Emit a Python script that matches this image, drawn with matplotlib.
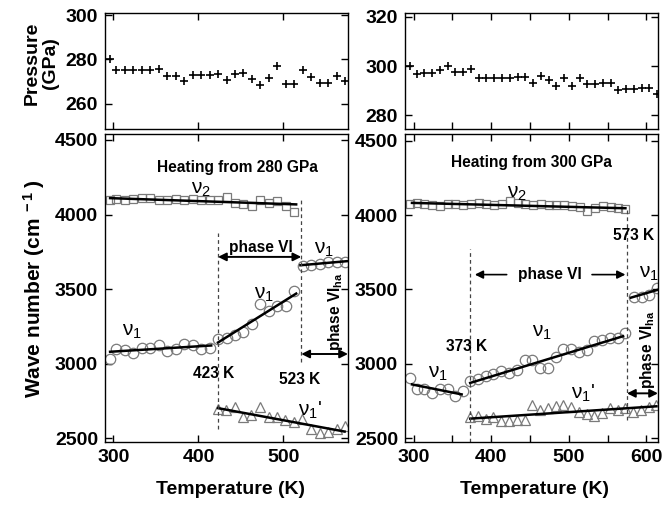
import matplotlib
matplotlib.use('Agg')
import matplotlib.pyplot as plt
from matplotlib.ticker import MultipleLocator

plt.rcParams['font.family'] = ['Liberation Sans', 'DejaVu Sans']
plt.rcParams['mathtext.fontset'] = 'custom'
plt.rcParams['mathtext.rm'] = 'Liberation Sans'
plt.rcParams['mathtext.bf'] = 'Liberation Sans:bold'
plt.rcParams['mathtext.it'] = 'Liberation Sans:italic'
plt.rcParams['mathtext.default'] = 'regular'

# ---------------- data: left (heating from 280 GPa) ----------------
pL_T = [296, 303, 313, 323, 333, 343, 353, 363, 373, 383, 393, 403, 413, 423, 433,
        443, 453, 463, 473, 483, 493, 503, 513, 523, 533, 543, 553, 563, 573]
pL_P = [280, 275, 275, 275, 275, 275, 275.5, 272.5, 272.5, 270, 273, 273, 273, 273.5, 270.5,
        273.5, 274, 271, 268.5, 271.5, 277, 269, 269, 275, 272, 269.5, 269.5, 272.5, 270]

nu2L_T = [296, 303, 313, 323, 333, 343, 353, 363, 373, 383, 393, 403, 413, 423, 433,
          443, 453, 463, 473, 483, 493, 503, 513]
nu2L_W = [4100, 4105, 4098, 4103, 4108, 4108, 4100, 4095, 4105, 4098, 4105, 4098, 4095, 4097, 4115,
          4078, 4072, 4055, 4095, 4080, 4090, 4060, 4015]
nu1aL_T = [296, 303, 313, 323, 333, 343, 353, 363, 373, 383, 393, 403, 413]
nu1aL_W = [3033, 3100, 3093, 3073, 3104, 3104, 3122, 3082, 3096, 3129, 3122, 3100, 3104]
nu1bL_T = [423, 433, 443, 453, 463, 473, 483, 493, 503, 513]
nu1bL_W = [3165, 3170, 3190, 3210, 3265, 3400, 3350, 3390, 3385, 3490]
nu1cL_T = [523, 533, 543, 553, 563, 573]
nu1cL_W = [3652, 3659, 3670, 3682, 3682, 3684]
nu1pL_T = [423, 432, 443, 453, 462, 473, 483, 492, 502, 512, 522, 533, 543, 552, 563, 572]
nu1pL_W = [2693, 2689, 2707, 2640, 2656, 2711, 2644, 2644, 2622, 2611, 2629, 2562, 2538, 2540, 2562, 2582]

fitL = {
    'nu2': ([296, 515], [4110, 4068]),
    'nu1a': ([296, 415], [3080, 3122]),
    'nu1b': ([423, 515], [3142, 3470]),
    'nu1c': ([520, 576], [3660, 3688]),
    'nu1p': ([423, 572], [2702, 2545]),
}

# ---------------- data: right (heating from 300 GPa) ----------------
pR_T = [296, 304, 314, 324, 334, 344, 354, 364, 374, 384, 394, 404, 414, 424, 434, 444, 454,
        464, 474, 484, 494, 504, 514, 524, 534, 544, 554, 564, 574, 584, 594, 604, 614]
pR_P = [300, 296.6, 297, 297, 298.3, 300, 297.5, 297.5, 299, 295, 295, 295, 295.2, 295.2, 295.5,
        295.6, 293.1, 296.1, 294.5, 292, 295, 292.1, 295.2, 292.7, 292.7, 293.1, 293.1, 290.3,
        290.6, 290.8, 291, 291.3, 288.6]

nu2R_T = [296, 304, 314, 324, 334, 344, 354, 364, 374, 384, 394, 404, 414, 424, 434, 444, 454,
          464, 474, 484, 494, 504, 514, 524, 534, 544, 554, 564, 573]
nu2R_W = [4074, 4080, 4076, 4069, 4063, 4072, 4076, 4069, 4072, 4082, 4076, 4069, 4076, 4092, 4080,
          4074, 4067, 4074, 4071, 4070, 4066, 4060, 4054, 4030, 4050, 4058, 4052, 4046, 4038]
nu1aR_T = [296, 304, 314, 324, 334, 344, 354, 364]
nu1aR_W = [2906, 2828, 2832, 2801, 2832, 2828, 2787, 2821]
nu1bR_T = [373, 383, 393, 403, 413, 423, 433, 443, 453, 463, 473, 483, 493, 503, 513, 523, 533,
           543, 553, 563, 573]
nu1bR_W = [2888, 2899, 2917, 2933, 2951, 2940, 2962, 3025, 3025, 2973, 2973, 3047, 3103, 3101,
           3081, 3092, 3157, 3159, 3174, 3174, 3208]
nu1cR_T = [584, 594, 604, 614]
nu1cR_W = [3450, 3452, 3462, 3512]
nu1pR_T = [373, 383, 393, 403, 413, 423, 433, 443, 453, 463, 473, 483, 493, 503, 513, 523, 533,
           543, 553, 563, 573, 583, 593, 603, 613]
nu1pR_W = [2643, 2648, 2632, 2641, 2618, 2614, 2625, 2625, 2727, 2689, 2705, 2720, 2727, 2711,
           2675, 2664, 2648, 2670, 2705, 2693, 2705, 2677, 2693, 2709, 2723]

fitR = {
    'nu2': ([298, 573], [4082, 4046]),
    'nu1a': ([298, 362], [2862, 2795]),
    'nu1b': ([373, 570], [2872, 3186]),
    'nu1c': ([580, 616], [3445, 3500]),
    'nu1p': ([373, 613], [2632, 2715]),
}

# ---------------- figure ----------------
W_, H_ = 663, 507
fig = plt.figure(figsize=(W_ / 100, H_ / 100), dpi=100)


def box(x0, y0, x1, y1):
    return [x0 / W_, 1 - y1 / H_, (x1 - x0) / W_, (y1 - y0) / H_]


axTL = fig.add_axes(box(105, 13, 348, 129))
axBL = fig.add_axes(box(105, 134, 348, 442))
axTR = fig.add_axes(box(405, 13, 658, 129))
axBR = fig.add_axes(box(405, 134, 658, 442))

mk_col = '#7a7a7a'
tick_fs = 14


def style(ax):
    ax.tick_params(direction='in', top=True, right=True, length=5, width=1,
                   labelsize=tick_fs, pad=5)
    ax.tick_params(which='minor', direction='in', top=True, right=True, length=5, width=1)
    for lab in ax.get_xticklabels() + ax.get_yticklabels():
        lab.set_fontweight('bold')
    for s in ax.spines.values():
        s.set_linewidth(1.0)


# top panels
axTL.plot(pL_T, pL_P, '+', color='black', ms=6, mew=1.2)
axTL.set_xlim(290, 576)
axTL.set_ylim(248.5, 301)
axTL.set_yticks([260, 280, 300])
axTL.set_xticks([300, 400, 500])
axTL.tick_params(labelbottom=False)
style(axTL)

axTR.plot(pR_T, pR_P, '+', color='black', ms=6, mew=1.2)
axTR.set_xlim(289, 615)
axTR.set_ylim(274.5, 321.5)
axTR.set_yticks([280, 300, 320])
axTR.set_xticks([300, 350, 400, 450, 500, 550, 600])
axTR.tick_params(labelbottom=False)
style(axTR)

# bottom panels
def draw_bottom(ax, nu2, nu1a, nu1b, nu1c, nu1p, fit):
    ax.plot(*nu2, 's', mfc='none', mec=mk_col, ms=5.5, mew=0.9)
    for d in (nu1a, nu1b, nu1c):
        ax.plot(*d, 'o', mfc='none', mec=mk_col, ms=7.5, mew=0.9)
    ax.plot(*nu1p, '^', mfc='none', mec=mk_col, ms=7.5, mew=0.9)
    for k in fit:
        ax.plot(*fit[k], '-', color='black', lw=1.8)


draw_bottom(axBL, (nu2L_T, nu2L_W), (nu1aL_T, nu1aL_W), (nu1bL_T, nu1bL_W),
            (nu1cL_T, nu1cL_W), (nu1pL_T, nu1pL_W), fitL)
draw_bottom(axBR, (nu2R_T, nu2R_W), (nu1aR_T, nu1aR_W), (nu1bR_T, nu1bR_W),
            (nu1cR_T, nu1cR_W), (nu1pR_T, nu1pR_W), fitR)

dash = dict(color='#444444', lw=0.9, ls=(0, (3, 2.5)))
ann_fs = 11.2
nu_fs = 15

# left bottom annotations
axBL.plot([423, 423], [2565, 3875], **dash)
axBL.plot([521, 521], [3010, 4102], **dash)
axBL.annotate('', xy=(423, 3716), xytext=(521, 3716),
              arrowprops=dict(arrowstyle='<|-|>', color='black', lw=1.4, mutation_scale=12,
                              shrinkA=0, shrinkB=0))
axBL.annotate('', xy=(521, 3065), xytext=(576, 3065),
              arrowprops=dict(arrowstyle='<|-|>', color='black', lw=1.4, mutation_scale=12,
                              shrinkA=0, shrinkB=0))
axBL.text(446, 4318, 'Heating from 280 GPa', ha='center', va='center', fontsize=ann_fs,
          fontweight='bold')
axBL.text(474, 3782, 'phase VI', ha='center', va='center', fontsize=ann_fs, fontweight='bold')
axBL.text(561, 3088, r'phase VI$_{\mathbf{ha}}$', ha='center', va='bottom', rotation=90,
          fontsize=ann_fs, fontweight='bold')
axBL.text(418, 2935, '423 K', ha='center', va='center', fontsize=ann_fs, fontweight='bold')
axBL.text(519, 2893, '523 K', ha='center', va='center', fontsize=ann_fs, fontweight='bold')
axBL.text(403, 4168, r'ν$_2$', ha='center', va='center', fontsize=nu_fs)
axBL.text(548, 3768, r'ν$_1$', ha='center', va='center', fontsize=nu_fs)
axBL.text(477, 3462, r'ν$_1$', ha='center', va='center', fontsize=nu_fs)
axBL.text(322, 3218, r'ν$_1$', ha='center', va='center', fontsize=nu_fs)
axBL.text(531, 2685, r"ν$_1$'", ha='center', va='center', fontsize=nu_fs)

axBL.set_xlim(290, 576)
axBL.set_ylim(2475, 4540)
axBL.set_xticks([300, 400, 500])
axBL.set_yticks([2500, 3000, 3500, 4000, 4500])
style(axBL)

# right bottom annotations
axBR.plot([373, 373], [2478, 3775], **dash)
axBR.plot([575, 575], [2620, 4045], **dash)
axBR.annotate('', xy=(379, 3600), xytext=(420, 3600),
              arrowprops=dict(arrowstyle='-|>', color='black', lw=1.2, mutation_scale=12,
                              shrinkA=0, shrinkB=0))
axBR.annotate('', xy=(573, 3600), xytext=(530, 3600),
              arrowprops=dict(arrowstyle='-|>', color='black', lw=1.2, mutation_scale=12,
                              shrinkA=0, shrinkB=0))
axBR.annotate('', xy=(575, 2802), xytext=(615, 2802),
              arrowprops=dict(arrowstyle='<|-|>', color='black', lw=1.4, mutation_scale=12,
                              shrinkA=0, shrinkB=0))
axBR.text(452, 4355, 'Heating from 300 GPa', ha='center', va='center', fontsize=ann_fs,
          fontweight='bold')
axBR.text(476, 3600, 'phase VI', ha='center', va='center', fontsize=ann_fs, fontweight='bold')
axBR.text(601, 2828, r'phase VI$_{\mathbf{ha}}$', ha='center', va='bottom', rotation=90,
          fontsize=ann_fs, fontweight='bold')
axBR.text(368, 3115, '373 K', ha='center', va='center', fontsize=ann_fs, fontweight='bold')
axBR.text(584, 3860, '573 K', ha='center', va='center', fontsize=ann_fs, fontweight='bold')
axBR.text(433, 4148, r'ν$_2$', ha='center', va='center', fontsize=nu_fs)
axBR.text(603, 3608, r'ν$_1$', ha='center', va='center', fontsize=nu_fs)
axBR.text(465, 3213, r'ν$_1$', ha='center', va='center', fontsize=nu_fs)
axBR.text(332, 2938, r'ν$_1$', ha='center', va='center', fontsize=nu_fs)
axBR.text(519, 2800, r"ν$_1$'", ha='center', va='center', fontsize=nu_fs)

axBR.set_xlim(289, 615)
axBR.set_ylim(2475, 4545)
axBR.set_xticks([300, 400, 500, 600])
axBR.xaxis.set_minor_locator(MultipleLocator(50))
axBR.set_yticks([2500, 3000, 3500, 4000, 4500])
style(axBR)

# axis labels
lab_fs = 14
fig.text(41 / W_, 1 - 63 / H_, 'Pressure\n(GPa)', rotation=90, ha='center', va='center',
         fontsize=lab_fs, fontweight='bold', linespacing=1.1)
fig.text(34 / W_, 1 - 289 / H_, r'Wave number (cm$^{\mathbf{\ -1\ }}$)', rotation=90,
         ha='center', va='center', fontsize=15, fontweight='bold')
fig.text(230 / W_, 1 - 490 / H_, 'Temperature (K)', ha='center', va='center',
         fontsize=lab_fs, fontweight='bold')
fig.text(535 / W_, 1 - 490 / H_, 'Temperature (K)', ha='center', va='center',
         fontsize=lab_fs, fontweight='bold')

fig.savefig('out.png', dpi=100)
